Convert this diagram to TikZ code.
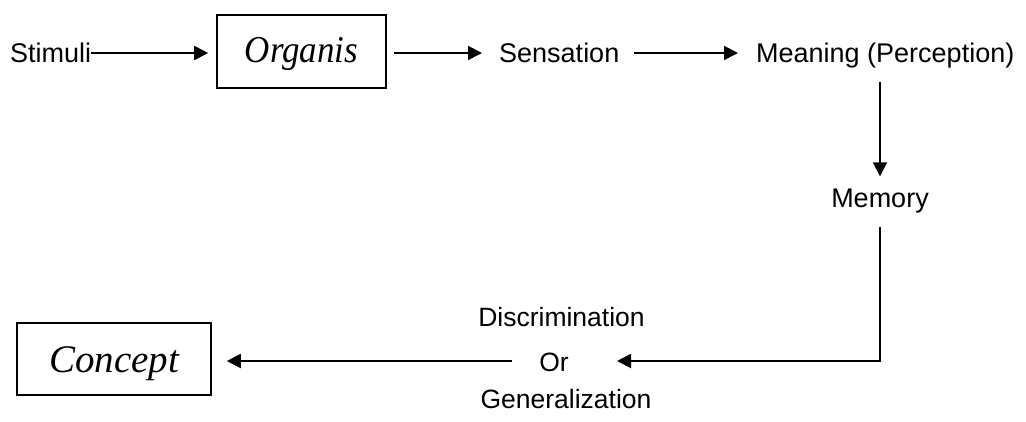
\documentclass[tikz,border=0pt]{standalone}
\usepackage{fontspec}
\newfontfamily\lab{Liberation Sans}
\newfontfamily\boxf{Liberation Serif}
\usetikzlibrary{arrows.meta}
\begin{document}
\begin{tikzpicture}[x=1pt,y=-1pt,
  lbl/.style={font=\lab\fontsize{27}{32}\selectfont, inner sep=0pt, text height=24pt, text depth=5pt},
  lbls/.style={font=\lab\fontsize{26.5}{32}\selectfont, inner sep=0pt, text height=23.5pt, text depth=5pt},
  box/.style={draw, line width=1.6pt, inner sep=0pt},
  arr/.style={line width=1.9pt, -{Triangle[length=14pt,width=14pt]}}]
\useasboundingbox (0,0) rectangle (1026,421);

\node[lbl, anchor=west] (stim) at (10,53) {Stimuli};
\node[box, minimum width=169pt, minimum height=73pt, font=\boxf\itshape\fontsize{38}{40}\selectfont, text height=27pt, text depth=6pt] (org) at (301.5,51.5) {\scalebox{0.92}[1]{Organis}};
\node[lbl, anchor=west] (sens) at (499,53) {Sensation};
\node[lbl, anchor=west] (mean) at (756,53) {Meaning (Perception)};
\node[lbl] (mem) at (880,198) {Memory};
\node[lbls] (disc) at (561.5,317.5) {Discrimination};
\node[lbls] (or) at (554,362) {Or};
\node[lbls] (gen) at (566,399) {Generalization};
\node[box, minimum width=194pt, minimum height=72pt, font=\boxf\itshape\fontsize{39}{42}\selectfont, text height=28pt, text depth=2pt] (con) at (114,359) {Concept};

\coordinate (orR) at (617,361);
\coordinate (orL) at (512,361);

\draw[arr, shorten >=8pt] (stim.east) -- (stim.east -| org.west);
\draw[arr, shorten <=7pt, shorten >=17pt] (org.east |- sens.west) -- (sens.west);
\draw[arr, shorten <=15pt, shorten >=18pt] (sens.east) -- (mean.west);
\draw[arr, shorten <=14pt, shorten >=7pt] (mean.south -| mem.north) -- (mem.north);
\draw[arr, shorten <=14pt] (mem.south) |- (orR);
\draw[arr, shorten >=15pt] (orL) -- (orL -| con.east);
\end{tikzpicture}
\end{document}
